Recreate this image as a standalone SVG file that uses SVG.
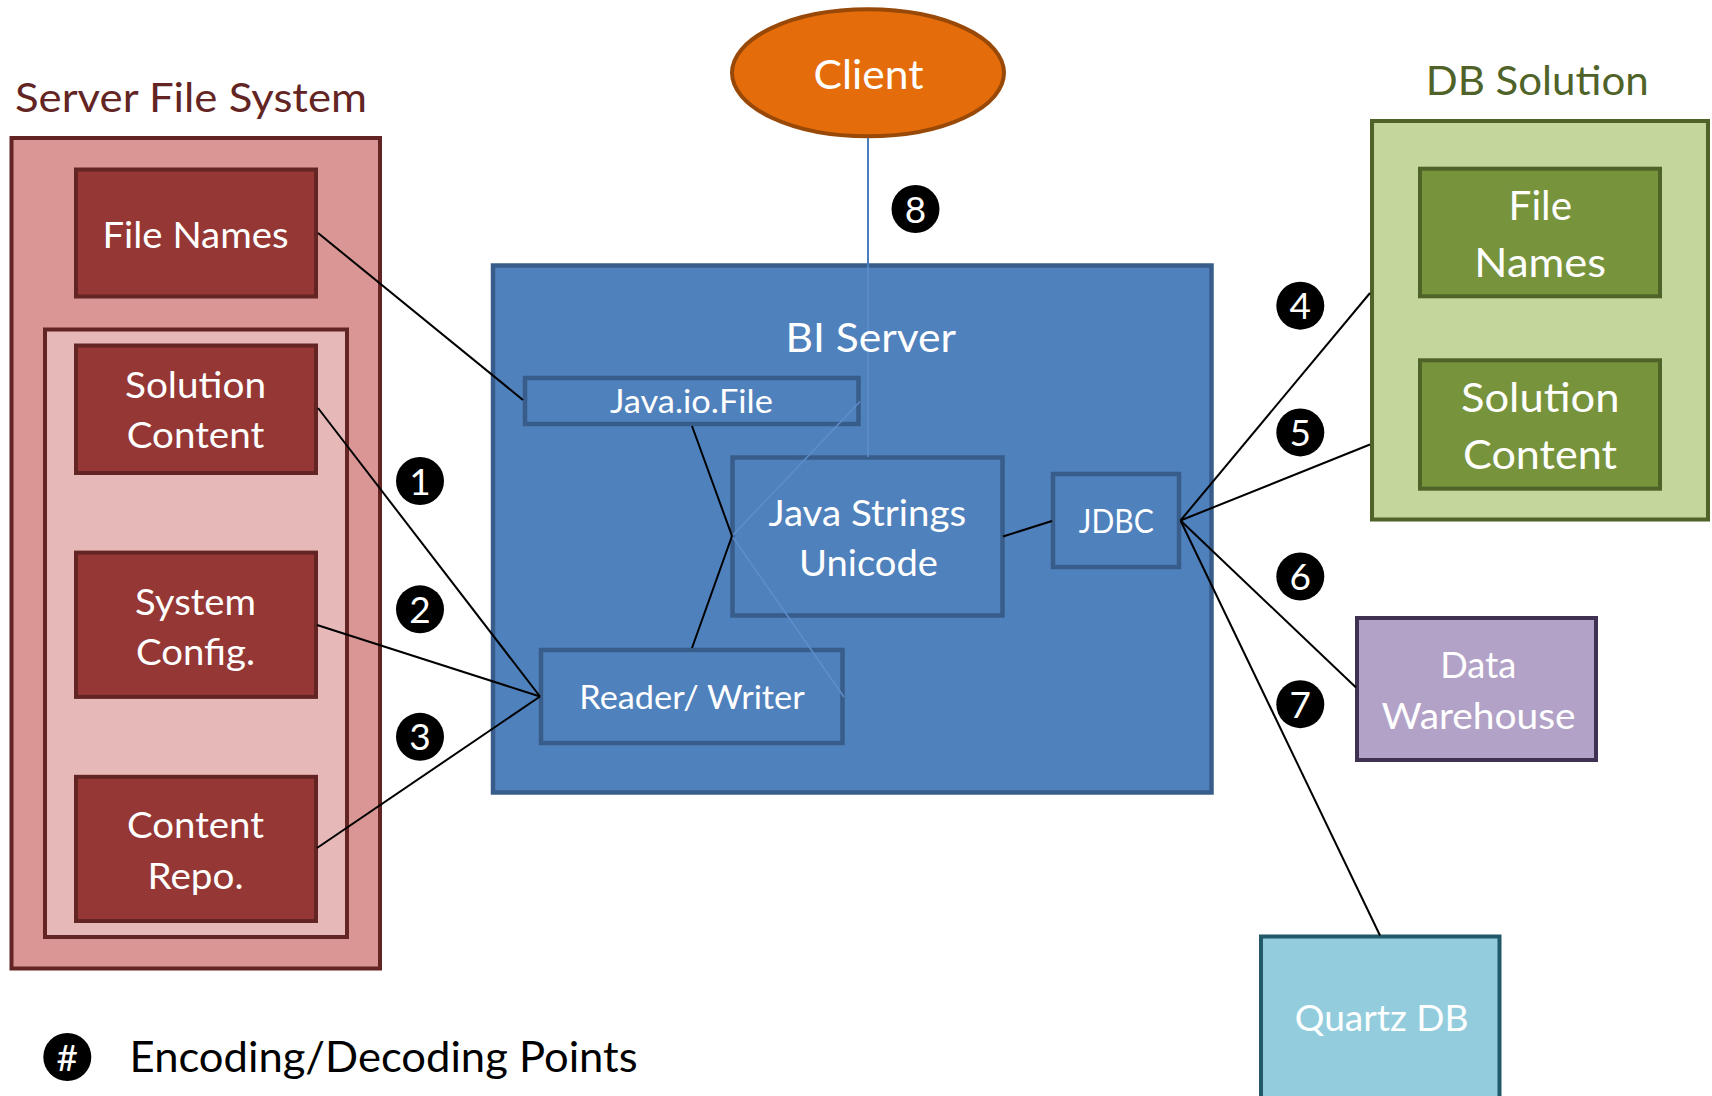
<svg xmlns="http://www.w3.org/2000/svg" width="1712" height="1096" viewBox="0 0 1712 1096">
<style>
text{font-family:Lato,"Open Sans","Liberation Sans",sans-serif}
.w{fill:#ffffff;text-anchor:middle}
.sfs-outer{fill:#d99694;stroke:#632523;stroke-width:4}
.sfs-inner{fill:#e6b9b8;stroke:#632523;stroke-width:4}
.sfs-node{fill:#953735;stroke:#632523;stroke-width:4}
.bi{fill:#4f81bd;stroke:#385d8a;stroke-width:4.5}
.db-outer{fill:#c3d69b;stroke:#4f6228;stroke-width:4}
.db-node{fill:#77933c;stroke:#4f6228;stroke-width:4}
.conn{stroke:#000000;stroke-width:2;fill:none}
.faint{stroke:#5e8fcb;stroke-width:1.5;fill:none}
.badge circle{fill:#000000}
.badge text{fill:#ffffff;text-anchor:middle;font-size:37px}
</style>

<g id="server-file-system">
  <text x="15" y="112" font-size="41.5" fill="#632523" textLength="352" lengthAdjust="spacingAndGlyphs">Server File System</text>
  <rect class="sfs-outer" x="11.5" y="138" width="368.5" height="830.5"/>
  <rect class="sfs-inner" x="45" y="329.5" width="302" height="607.5"/>
</g>
<g id="sfs-file-names">
  <rect class="sfs-node" x="76" y="169.5" width="240" height="127"/>
  <text class="w" x="195.5" y="248" font-size="37" textLength="186" lengthAdjust="spacingAndGlyphs">File Names</text>
</g>
<g id="sfs-solution-content">
  <rect class="sfs-node" x="76" y="345.5" width="240" height="127.5"/>
  <text class="w" x="195.5" y="398.3" font-size="37" textLength="141" lengthAdjust="spacingAndGlyphs">Solution</text>
  <text class="w" x="195.5" y="448.3" font-size="37" textLength="137.5" lengthAdjust="spacingAndGlyphs">Content</text>
</g>
<g id="sfs-system-config">
  <rect class="sfs-node" x="76" y="552.6" width="240" height="144.3"/>
  <text class="w" x="195.5" y="614.5" font-size="37" textLength="121" lengthAdjust="spacingAndGlyphs">System</text>
  <text class="w" x="195.5" y="664.8" font-size="37" textLength="119" lengthAdjust="spacingAndGlyphs">Config.</text>
</g>
<g id="sfs-content-repo">
  <rect class="sfs-node" x="76" y="776.8" width="240" height="144.2"/>
  <text class="w" x="195.5" y="838" font-size="37" textLength="137" lengthAdjust="spacingAndGlyphs">Content</text>
  <text class="w" x="195.5" y="889.3" font-size="37" textLength="96" lengthAdjust="spacingAndGlyphs">Repo.</text>
</g>

<g id="bi-server">
  <rect class="bi" x="493" y="265.5" width="718.5" height="527"/>
</g>

<g id="client">
  <ellipse cx="868" cy="72.8" rx="136" ry="63.5" fill="#e46c0a" stroke="#984807" stroke-width="4"/>
  <text class="w" x="868.5" y="89" font-size="40.5" textLength="110" lengthAdjust="spacingAndGlyphs">Client</text>
</g>

<g id="java-io-file">
  <rect class="bi" x="525" y="378" width="333.5" height="46"/>
  <text class="w" x="691.4" y="413.3" font-size="32.5" textLength="163" lengthAdjust="spacingAndGlyphs">Java.io.File</text>
</g>
<g id="java-strings-unicode">
  <rect class="bi" x="732.5" y="457.5" width="270" height="158"/>
  <text class="w" x="867.3" y="526" font-size="37" textLength="197.8" lengthAdjust="spacingAndGlyphs">Java Strings</text>
  <text class="w" x="868.5" y="576" font-size="37" textLength="139" lengthAdjust="spacingAndGlyphs">Unicode</text>
</g>
<g id="jdbc">
  <rect class="bi" x="1053" y="474" width="126" height="93"/>
  <text class="w" x="1116.2" y="533.3" font-size="32.5" textLength="75" lengthAdjust="spacingAndGlyphs">JDBC</text>
</g>
<g id="reader-writer">
  <rect class="bi" x="541" y="650" width="301.5" height="93"/>
  <text class="w" x="692" y="709.3" font-size="32.5" textLength="225.4" lengthAdjust="spacingAndGlyphs">Reader/ Writer</text>
</g>

<g id="db-solution">
  <text x="1537.2" y="95" font-size="41.5" fill="#4f6228" text-anchor="middle" textLength="223" lengthAdjust="spacingAndGlyphs">DB Solution</text>
  <rect class="db-outer" x="1372" y="121" width="336" height="398.5"/>
</g>
<g id="db-file-names">
  <rect class="db-node" x="1420" y="168.7" width="240" height="127.6"/>
  <text class="w" x="1540.3" y="220" font-size="41.5" textLength="63.4" lengthAdjust="spacingAndGlyphs">File</text>
  <text class="w" x="1540.2" y="277.3" font-size="41.5" textLength="131.7" lengthAdjust="spacingAndGlyphs">Names</text>
</g>
<g id="db-solution-content">
  <rect class="db-node" x="1420" y="360.3" width="240" height="128.4"/>
  <text class="w" x="1540.2" y="411.7" font-size="41.5" textLength="158.5" lengthAdjust="spacingAndGlyphs">Solution</text>
  <text class="w" x="1540" y="469.3" font-size="41.5" textLength="154" lengthAdjust="spacingAndGlyphs">Content</text>
</g>

<g id="data-warehouse">
  <rect x="1357" y="618" width="239" height="142" fill="#b3a2c7" stroke="#3f3151" stroke-width="4"/>
  <text class="w" x="1478.2" y="677.6" font-size="37" textLength="76" lengthAdjust="spacingAndGlyphs">Data</text>
  <text class="w" x="1478.6" y="728.7" font-size="37" textLength="194" lengthAdjust="spacingAndGlyphs">Warehouse</text>
</g>
<g id="quartz-db">
  <rect x="1261" y="936.5" width="238.5" height="200" fill="#93cddd" stroke="#215968" stroke-width="4"/>
  <text class="w" x="1381.6" y="1031" font-size="37" textLength="173.7" lengthAdjust="spacingAndGlyphs">Quartz DB</text>
</g>

<g id="connectors">
  <line x1="868" y1="138" x2="868" y2="265.5" stroke="#4a7ebb" stroke-width="2"/>
  <line x1="868" y1="265.5" x2="868" y2="457" class="faint"/>
  <polyline class="faint" points="860,401.5 732,536 844,697"/>
  <line class="conn" x1="318" y1="233" x2="523" y2="400"/>
  <line class="conn" x1="318" y1="408" x2="540" y2="696.5"/>
  <line class="conn" x1="317" y1="625" x2="540" y2="696.5"/>
  <line class="conn" x1="317" y1="848" x2="540" y2="696.5"/>
  <polyline class="conn" points="692,426 732,536 692,648"/>
  <line class="conn" x1="1003" y1="536.5" x2="1052" y2="521"/>
  <line class="conn" x1="1180.5" y1="520.5" x2="1370" y2="293"/>
  <line class="conn" x1="1180.5" y1="520.5" x2="1370" y2="444.5"/>
  <line class="conn" x1="1180.5" y1="520.5" x2="1356" y2="687.5"/>
  <line class="conn" x1="1180.5" y1="520.5" x2="1380" y2="935.5"/>
</g>

<g id="bi-server-label">
  <text class="w" x="870.7" y="351.7" font-size="41.5" textLength="170.6" lengthAdjust="spacingAndGlyphs">BI Server</text>
</g>

<g id="badges">
  <g class="badge"><circle cx="420" cy="481" r="24"/><text x="420" y="494.5">1</text></g>
  <g class="badge"><circle cx="420" cy="609.3" r="24"/><text x="420" y="622.8">2</text></g>
  <g class="badge"><circle cx="420" cy="736.8" r="24"/><text x="420" y="750.3">3</text></g>
  <g class="badge"><circle cx="1300.3" cy="305.7" r="24"/><text x="1300.3" y="319.2">4</text></g>
  <g class="badge"><circle cx="1300.3" cy="432.4" r="24"/><text x="1300.3" y="445.9">5</text></g>
  <g class="badge"><circle cx="1300.3" cy="576.5" r="24"/><text x="1300.3" y="590">6</text></g>
  <g class="badge"><circle cx="1300.3" cy="704.2" r="24"/><text x="1300.3" y="717.7">7</text></g>
  <g class="badge"><circle cx="915.5" cy="209" r="24"/><text x="915.5" y="222.5">8</text></g>
</g>

<g id="legend">
  <g class="badge"><circle cx="67.3" cy="1057" r="24"/><text x="67.3" y="1070.5">#</text></g>
  <text x="129.6" y="1072" font-size="42" fill="#000000" textLength="508" lengthAdjust="spacingAndGlyphs">Encoding/Decoding Points</text>
</g>
</svg>
